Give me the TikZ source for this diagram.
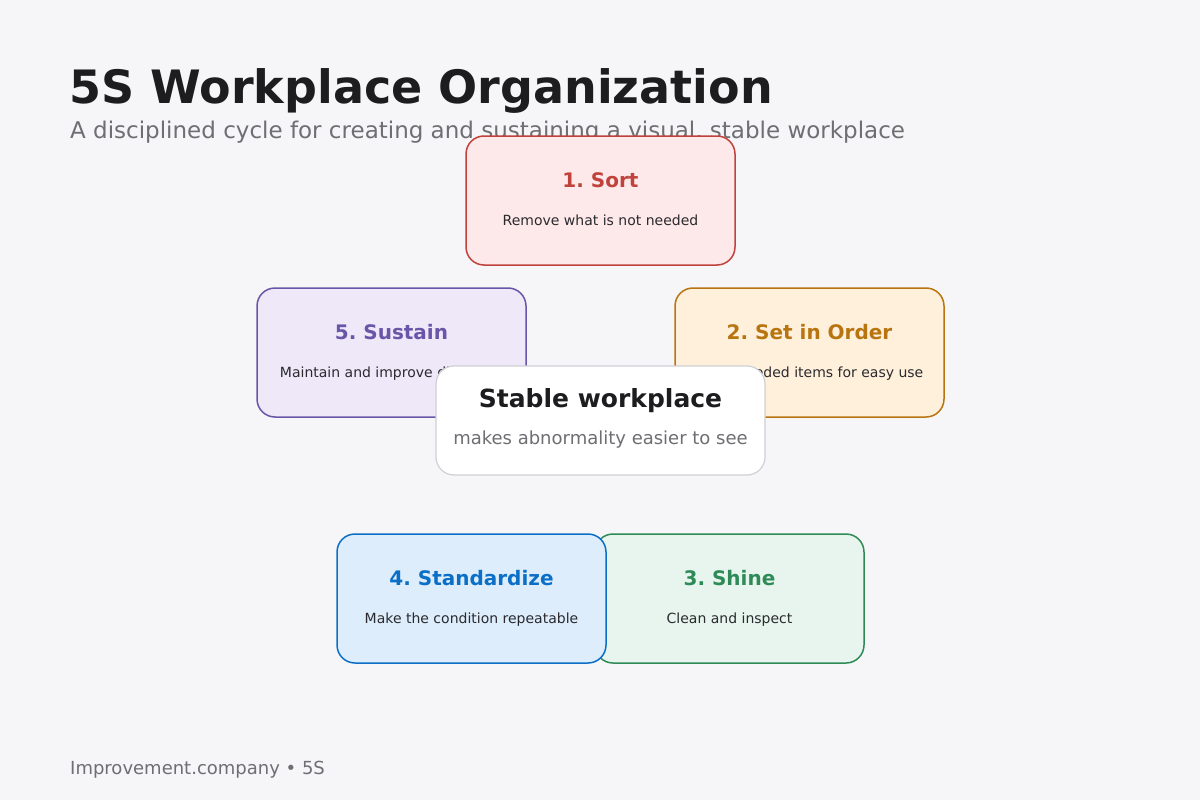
\documentclass[tikz,border=0pt]{standalone}
\usepackage{fontspec}
\setmainfont{DejaVu Sans}
\frenchspacing
\definecolor{pagebg}{HTML}{F6F6F8}
\definecolor{inkdark}{HTML}{1D1D1F}
\definecolor{inkgray}{HTML}{6E6E73}
\definecolor{inkbody}{HTML}{2A2A2E}
\definecolor{sortline}{HTML}{C0423C}
\definecolor{sortfill}{HTML}{FDE9E9}
\definecolor{orderline}{HTML}{B8740E}
\definecolor{orderfill}{HTML}{FFF0DC}
\definecolor{shineline}{HTML}{2E8B57}
\definecolor{shinefill}{HTML}{E7F5EE}
\definecolor{stdline}{HTML}{0B6FC7}
\definecolor{stdfill}{HTML}{DDEDFC}
\definecolor{sustline}{HTML}{6A55A8}
\definecolor{sustfill}{HTML}{EEE8F9}
\definecolor{coreline}{HTML}{CFCFD6}
\tikzset{
  stepbox/.style n args={2}{draw=#1, fill=#2, line width=1.5pt, rounded corners=18pt,
    minimum width=269pt, minimum height=129pt, inner sep=0pt},
  steptitle/.style={anchor=base, text=#1, font=\fontsize{20}{24}\selectfont\bfseries},
  stepnote/.style={anchor=base, text=inkbody, font=\fontsize{14}{17}\selectfont},
}
\begin{document}
\begin{tikzpicture}[x=1pt, y=-1pt]
  \fill[pagebg] (0,0) rectangle (1200,800);
  \useasboundingbox (0,0) rectangle (1200,800);
  % heading
  \node[anchor=base west, inner sep=0pt, text=inkdark, font=\fontsize{46}{54}\selectfont\bfseries] (title) at (69,103) {5S Workplace Organization};
  \node[anchor=base west, inner sep=0pt, text=inkgray, font=\fontsize{23}{27}\selectfont] (subtitle) at (70,139) {A disciplined cycle for creating and sustaining a visual, stable workplace};
  % the five steps
  \node[stepbox={sortline}{sortfill}] (sort) at (600.5,200.5) {};
  \node[steptitle=sortline] (sorttitle) at (600.5,187) {1. Sort};
  \node[stepnote] (sortnote) at (600.5,225) {Remove what is not needed};
  \node[stepbox={orderline}{orderfill}] (order) at (809.5,352.5) {};
  \node[steptitle=orderline] (ordertitle) at (809.5,339) {2. Set in Order};
  \node[stepnote] (ordernote) at (809.5,377) {Place needed items for easy use};
  \node[stepbox={shineline}{shinefill}] (shine) at (729.5,598.5) {};
  \node[steptitle=shineline] (shinetitle) at (729.5,585) {3. Shine};
  \node[stepnote] (shinenote) at (729.5,623) {Clean and inspect};
  \node[stepbox={stdline}{stdfill}] (std) at (471.5,598.5) {};
  \node[steptitle=stdline] (stdtitle) at (471.5,585) {4. Standardize};
  \node[stepnote] (stdnote) at (471.5,623) {Make the condition repeatable};
  \node[stepbox={sustline}{sustfill}] (sustain) at (391.5,352.5) {};
  \node[steptitle=sustline] (sustaintitle) at (391.5,339) {5. Sustain};
  \node[stepnote] (sustainnote) at (391.5,377) {Maintain and improve discipline};
  % centre
  \node[stepbox={coreline}{white}, minimum width=329pt, minimum height=109pt, line width=1.2pt] (core) at (600.5,420.5) {};
  \node[anchor=base, text=inkdark, font=\fontsize{25}{29}\selectfont\bfseries] (coretitle) at (600.5,407) {Stable workplace};
  \node[anchor=base, text=inkgray, font=\fontsize{18}{22}\selectfont] (corenote) at (600.5,444) {makes abnormality easier to see};
  % footer
  \node[anchor=base west, inner sep=0pt, text=inkgray, font=\fontsize{18}{22}\selectfont] (footer) at (70,774) {Improvement.company • 5S};
\end{tikzpicture}
\end{document}
